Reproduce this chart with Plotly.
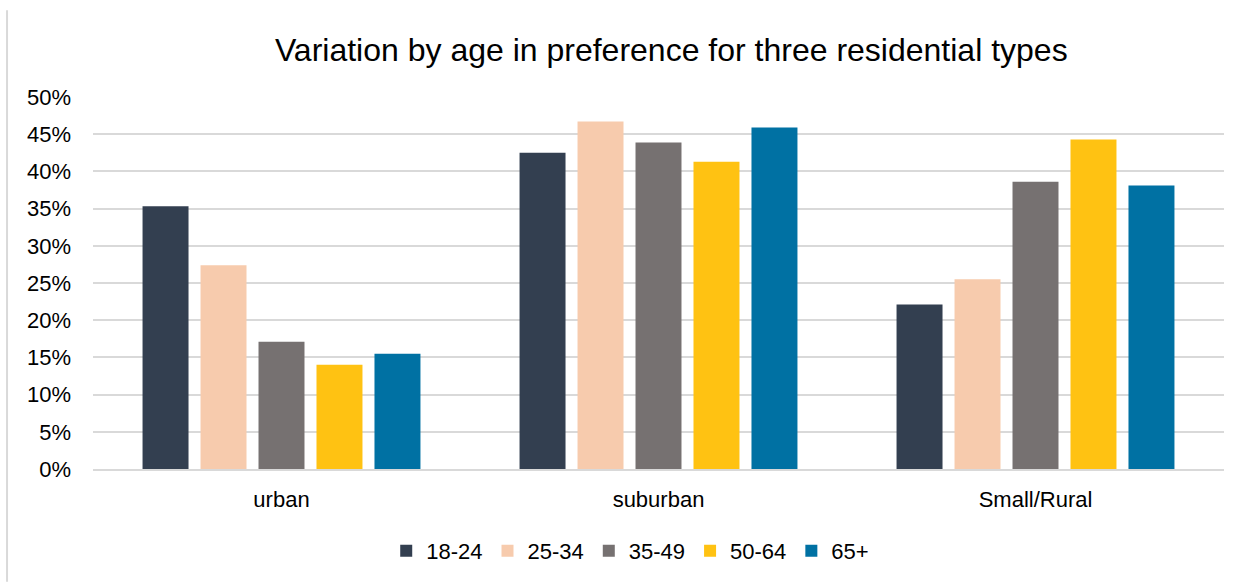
import plotly.graph_objects as go

# Residential type categories and share of respondents preferring each, by age group
categories = ["urban", "suburban", "Small/Rural"]
age_groups = ["18-24", "25-34", "35-49", "50-64", "65+"]
share_18_24 = [0.353, 0.425, 0.221]
share_25_34 = [0.274, 0.467, 0.255]
share_35_49 = [0.171, 0.439, 0.386]
share_50_64 = [0.140, 0.413, 0.443]
share_65_plus = [0.155, 0.459, 0.381]

series = [share_18_24, share_25_34, share_35_49, share_50_64, share_65_plus]
colors = ["#333F50", "#F7CBAD", "#767171", "#FFC212", "#0071A3"]
y_ticks = [i / 100 for i in range(0, 51, 5)]

FONT = "Arial, Liberation Sans, sans-serif"

fig = go.Figure()
for name, vals, color in zip(age_groups, series, colors):
    fig.add_trace(go.Bar(name=name, x=categories, y=vals, marker_color=color,
                         marker_line_width=0))

fig.update_layout(
    width=1250, height=583,
    paper_bgcolor="white", plot_bgcolor="white",
    margin=dict(l=93, r=26, t=97, b=113),
    barmode="group", bargap=0.231, bargroupgap=0.207,
    font=dict(family=FONT, color="#000000", size=22),
    title=dict(text="Variation by age in preference for three residential types",
               x=0.537, xanchor="center", y=0.915, yanchor="middle",
               font=dict(family=FONT, size=32, color="#000000")),
    legend=dict(orientation="h", x=0.475, xanchor="center", y=-0.161, yanchor="top",
                font=dict(family=FONT, size=22, color="#000000"),
                traceorder="normal", itemwidth=30),
    showlegend=True,
)
fig.update_yaxes(range=[0, 0.5], tickvals=y_ticks, tickformat=".0%",
                 showgrid=True, gridcolor="#D9D9D9", gridwidth=1.5,
                 zeroline=False, showline=False, ticks="", ticklabelstandoff=21,
                 tickfont=dict(size=22))
fig.update_xaxes(showline=True, linecolor="#D9D9D9", linewidth=1.5, ticks="",
                 ticklabelstandoff=10, tickfont=dict(size=22))

# Thin gray frame edge on the left side of the chart area
fig.add_shape(type="line", xref="paper", yref="paper", x0=-0.076, x1=-0.076,
              y0=-113 / 373, y1=1 + 87 / 373,
              line=dict(color="#D9D9D9", width=2))

fig.write_html("out.html")
